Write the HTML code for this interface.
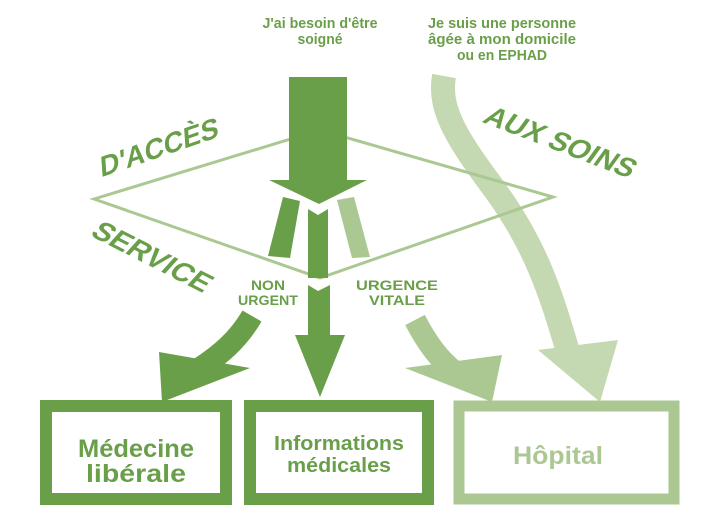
<!DOCTYPE html>
<html><head><meta charset="utf-8"><style>
html,body{margin:0;padding:0;background:#fff;}
svg{display:block;}
text{font-family:"Liberation Sans",sans-serif;font-weight:bold;}
</style></head><body>
<svg width="707" height="532" viewBox="0 0 707 532" xmlns="http://www.w3.org/2000/svg">
<path d="M444,76 C438,110 458,140 495,190 C535,245 550,290 568,352" fill="none" stroke="#c4d9b2" stroke-width="24"/>
<polygon points="538,350 618,340 600,402" fill="#c4d9b2"/>
<polygon points="94,199 320,130 553,197 320,278" fill="none" stroke="#abc893" stroke-width="3"/>
<rect x="289" y="77" width="58" height="105" fill="#6a9f4a"/>
<polygon points="269,180 367,180 319,204" fill="#6a9f4a"/>
<polygon points="283,197 300,201 290,258 268,256" fill="#6a9f4a"/>
<polygon points="308,209 318,215 328,209 328,278 308,278" fill="#6a9f4a"/>
<polygon points="337,200 354,197 370,257 352,258" fill="#abc893"/>
<polygon points="308,285 318,291 330,285 330,337 308,337" fill="#6a9f4a"/>
<polygon points="295,335 345,335 320,397" fill="#6a9f4a"/>
<path d="M252,316 C238,340 220,355 200,368" fill="none" stroke="#6a9f4a" stroke-width="22"/>
<polygon points="159,352 250,368 162,402" fill="#6a9f4a"/>
<path d="M415,320 C428,345 440,360 455,372" fill="none" stroke="#abc893" stroke-width="22"/>
<polygon points="405,368 502,355 492,402" fill="#abc893"/>
<rect x="46" y="406" width="180" height="93" fill="#fff" stroke="#6a9f4a" stroke-width="12"/>
<rect x="250" y="406" width="178" height="93" fill="#fff" stroke="#6a9f4a" stroke-width="12"/>
<rect x="459" y="406" width="215" height="93" fill="#fff" stroke="#abc893" stroke-width="11"/>
<g text-anchor="middle" fill="#6a9f4a">
<text x="136" y="457" font-size="25" textLength="116" lengthAdjust="spacingAndGlyphs">Médecine</text>
<text x="136" y="482" font-size="25" textLength="100" lengthAdjust="spacingAndGlyphs">libérale</text>
<text x="339" y="450" font-size="20" textLength="130" lengthAdjust="spacingAndGlyphs">Informations</text>
<text x="339" y="472" font-size="20" textLength="104" lengthAdjust="spacingAndGlyphs">médicales</text>
<text x="558" y="464" font-size="25" fill="#abc893" textLength="90" lengthAdjust="spacingAndGlyphs">Hôpital</text>
<text x="320" y="28" font-size="15" textLength="115" lengthAdjust="spacingAndGlyphs">J'ai besoin d'être</text>
<text x="320" y="44" font-size="15" textLength="45" lengthAdjust="spacingAndGlyphs">soigné</text>
<text x="502" y="28" font-size="15" textLength="148" lengthAdjust="spacingAndGlyphs">Je suis une personne</text>
<text x="502" y="44" font-size="15" textLength="148" lengthAdjust="spacingAndGlyphs">âgée à mon domicile</text>
<text x="502" y="60" font-size="15" textLength="90" lengthAdjust="spacingAndGlyphs">ou en EPHAD</text>
<text x="268" y="290" font-size="14" textLength="34" lengthAdjust="spacingAndGlyphs">NON</text>
<text x="268" y="305" font-size="14" textLength="60" lengthAdjust="spacingAndGlyphs">URGENT</text>
<text x="397" y="290" font-size="14" textLength="82" lengthAdjust="spacingAndGlyphs">URGENCE</text>
<text x="397" y="305" font-size="14" textLength="56" lengthAdjust="spacingAndGlyphs">VITALE</text>
<text transform="translate(160,157) rotate(-19) skewX(-15)" font-size="28" textLength="125" lengthAdjust="spacingAndGlyphs">D'ACCÈS</text>
<text transform="translate(555,150) rotate(21) skewX(-15)" font-size="28" textLength="158" lengthAdjust="spacingAndGlyphs">AUX SOINS</text>
<text transform="translate(146,264) rotate(27) skewX(-15)" font-size="28" textLength="128" lengthAdjust="spacingAndGlyphs">SERVICE</text>
</g>
</svg>
</body></html>
